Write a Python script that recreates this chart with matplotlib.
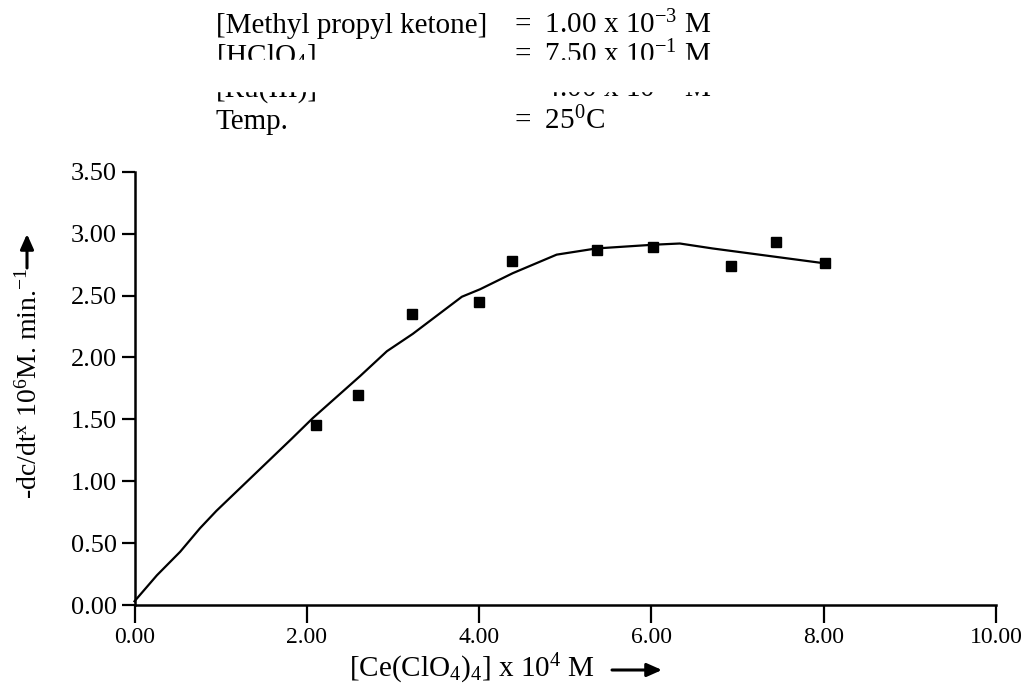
import matplotlib
matplotlib.use('Agg')
import matplotlib.pyplot as plt
from matplotlib.patches import Rectangle, FancyArrowPatch

# ---- data ----
ce_conc = [2.11, 2.60, 3.22, 4.00, 4.38, 5.37, 6.02, 6.92, 7.45, 8.01]
rate = [1.45, 1.70, 2.35, 2.45, 2.78, 2.87, 2.89, 2.74, 2.93, 2.76]

curve_x = [0.0, 0.26, 0.53, 0.76, 0.95, 1.22, 1.49, 1.82, 2.07, 2.62, 2.93,
           3.23, 3.80, 4.01, 4.39, 4.90, 5.36, 6.02, 6.33, 6.71, 8.01]
curve_y = [0.03, 0.24, 0.43, 0.62, 0.76, 0.94, 1.12, 1.34, 1.51, 1.85, 2.05,
           2.19, 2.49, 2.55, 2.68, 2.83, 2.88, 2.91, 2.92, 2.88, 2.76]

x_ticks = [0, 2, 4, 6, 8, 10]
x_tick_labels = ['0.00', '2.00', '4.00', '6.00', '8.00', '10.00']
y_ticks = [0, 0.5, 1.0, 1.5, 2.0, 2.5, 3.0, 3.5]
y_tick_labels = ['0.00', '0.50', '1.00', '1.50', '2.00', '2.50', '3.00', '3.50']

header_left = ['[Methyl propyl ketone]', r'[HClO$_4$]', r'[Ru(III)]', 'Temp.']
header_right = [r'=  1.00 x 10$^{-3}$ M', r'=  7.50 x 10$^{-1}$ M',
                r'=  4.00 x 10$^{-6}$ M', r'=  25$^{0}$C']

# ---- style ----
SERIF = 'Liberation Serif'
plt.rcParams['font.family'] = [SERIF, 'DejaVu Serif']
plt.rcParams['mathtext.fontset'] = 'custom'
plt.rcParams['mathtext.rm'] = SERIF
plt.rcParams['mathtext.it'] = SERIF
plt.rcParams['mathtext.bf'] = SERIF + ':bold'

W, H = 1024, 694
fig = plt.figure(figsize=(W / 100, H / 100), dpi=100)

def fx(px):
    return px / W

def fy(py):
    return 1 - py / H

x0, x1 = 134.5, 996
y0, y1 = 605, 171.7
ax = fig.add_axes([fx(x0), fy(y0), fx(x1) - fx(x0), fy(y1) - fy(y0)])
ax.set_xlim(0, 10)
ax.set_ylim(0, 3.5)

ax.plot(curve_x, curve_y, color='black', lw=1.6, clip_on=False)
ax.plot(ce_conc, rate, linestyle='none', marker='s', ms=7.5,
        color='black', clip_on=False)

for side in ['top', 'right']:
    ax.spines[side].set_visible(False)
for side in ['left', 'bottom']:
    ax.spines[side].set_linewidth(1.8)

ax.set_xticks(x_ticks)
ax.set_xticklabels(x_tick_labels, fontsize=17)
ax.set_yticks(y_ticks)
ax.set_yticklabels(y_tick_labels, fontsize=19)
ax.tick_params(axis='x', direction='out', length=13, width=1.6, pad=3)
ax.tick_params(axis='y', direction='out', length=9.5, width=1.6, pad=3)

arrow_style = '-|>,head_length=9,head_width=4'

# axis labels
fig.text(fx(472), fy(669), r'[Ce(ClO$_4$)$_4$] x 10$^4$ M', fontsize=21,
         ha='center', va='center')
fig.patches.append(FancyArrowPatch((fx(612), fy(670)), (fx(662), fy(670)),
                                   transform=fig.transFigure,
                                   arrowstyle=arrow_style, lw=2.2,
                                   color='black', mutation_scale=1,
                                   shrinkA=0, shrinkB=0))

fig.text(fx(29), fy(383), r'-dc/dt$^{x}$ 10$^{6}$M. min.$^{-1}$', fontsize=20,
         rotation=90, ha='center', va='center')
fig.patches.append(FancyArrowPatch((fx(27), fy(268)), (fx(27), fy(234)),
                                   transform=fig.transFigure,
                                   arrowstyle=arrow_style, lw=2.2,
                                   color='black', mutation_scale=1,
                                   shrinkA=0, shrinkB=0))

# header block
baselines = [33, 63, 97, 129]
for yb, left, right in zip(baselines, header_left, header_right):
    fig.text(fx(216), fy(yb), left, fontsize=21, ha='left', va='baseline')
    fig.text(fx(514), fy(yb), right, fontsize=21, ha='left', va='baseline')

# white band of the scan that hides part of the header
fig.patches.append(Rectangle((0, fy(91)), 1, fy(60) - fy(91),
                             transform=fig.transFigure, color='white',
                             zorder=20))

fig.savefig('out.png', dpi=100)
